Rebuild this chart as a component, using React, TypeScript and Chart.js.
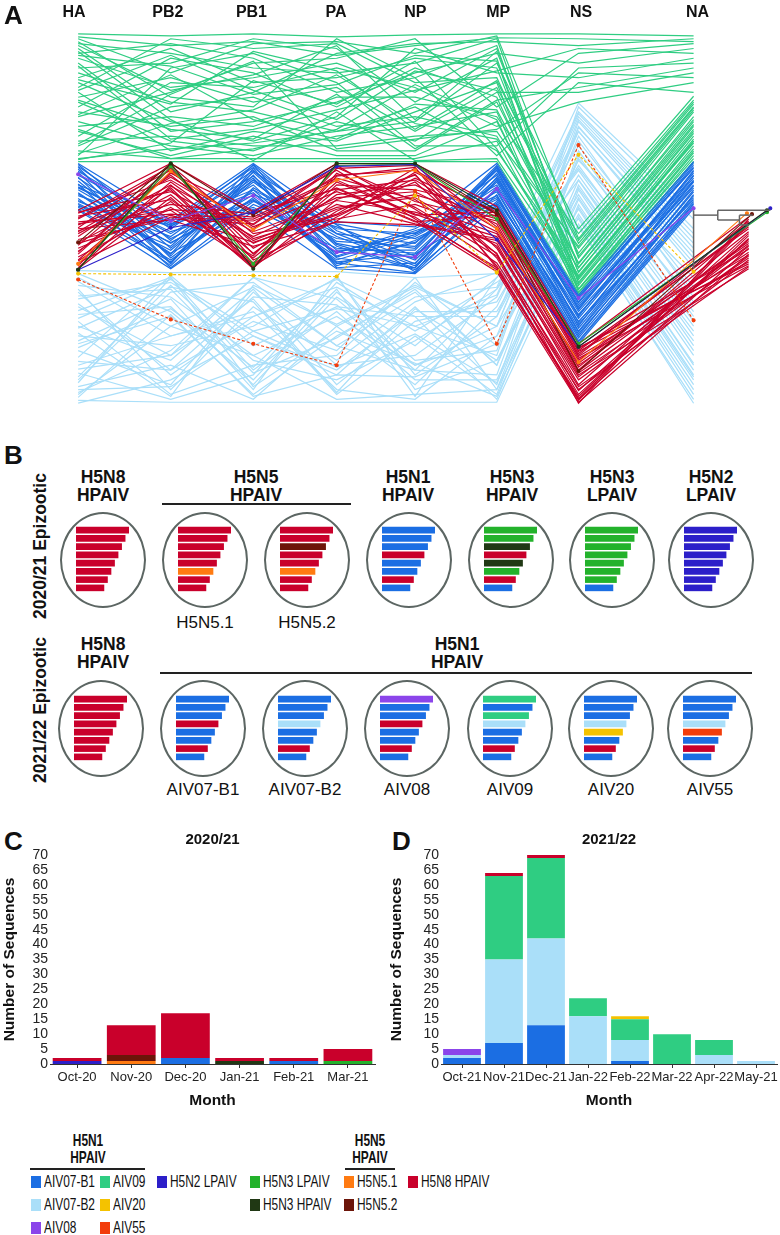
import React, { useEffect, useRef } from "react";
import { Chart, registerables } from "chart.js";
Chart.register(...registerables);

const SANS = '"Liberation Sans", Arial, Helvetica, sans-serif';

const COL = {
  B1: "#1b6ee3",
  B2: "#aadff9",
  A08: "#8b45ea",
  A09: "#2fcd82",
  A20: "#f4c200",
  A55: "#f23d0b",
  N2: "#2c1fc9",
  N3L: "#23b22b",
  N3H: "#203814",
  N51: "#ff7b12",
  N52: "#6c1509",
  N8: "#c9002b",
};

// ---------------- Panel A (segment rank plot) ----------------
const genes = ["HA", "PB2", "PB1", "PA", "NP", "MP", "NS", "NA"];
const geneX = [0, 1.11, 2.1, 3.1, 4.04, 5.02, 6, 7.38];
const n8AxisX = 8.04;
const X_MIN = -0.876;
const X_MAX = 8.355;

// values: rank position along each segment axis (0 = top)
const greenLines = [
  [0, 2, 0, 3, 1, 0, 0, 2],
  [5, 40, 10, 8, 20, 2, 210, 70],
  [10, 20, 35, 40, 30, 5, 240, 95],
  [15, 80, 60, 20, 10, 8, 12, 5],
  [20, 10, 25, 60, 45, 12, 255, 110],
  [25, 55, 45, 30, 60, 15, 230, 85],
  [30, 100, 90, 70, 40, 20, 30, 15],
  [35, 30, 5, 15, 70, 25, 262, 120],
  [40, 70, 80, 100, 90, 30, 200, 64],
  [45, 15, 50, 45, 25, 35, 245, 100],
  [50, 90, 110, 85, 15, 40, 45, 25],
  [55, 5, 15, 10, 50, 45, 225, 80],
  [60, 120, 100, 110, 80, 50, 265, 125],
  [65, 45, 70, 55, 100, 55, 215, 75],
  [70, 110, 120, 90, 110, 60, 60, 40],
  [75, 25, 40, 75, 35, 65, 250, 105],
  [80, 95, 85, 120, 120, 70, 235, 90],
  [85, 60, 30, 25, 5, 75, 20, 10],
  [90, 115, 125, 105, 95, 80, 268, 131],
  [95, 85, 95, 65, 65, 85, 205, 68],
  [100, 125, 105, 125, 125, 90, 258, 115],
  [105, 50, 55, 35, 55, 95, 70, 50],
  [110, 105, 115, 115, 105, 100, 220, 78],
  [115, 75, 65, 95, 85, 105, 248, 112],
  [120, 128, 128, 128, 128, 110, 262, 128],
  [125, 35, 20, 50, 115, 115, 35, 30],
  [128, 118, 112, 100, 75, 120, 240, 98],
  [131, 131, 131, 131, 131, 131, 266, 131],
  [8, 65, 75, 5, 45, 125, 50, 60],
  [18, 88, 130, 80, 130, 128, 252, 108],
  [3, 12, 8, 22, 12, 4, 5, 8],
  [12, 58, 42, 12, 88, 18, 228, 88],
  [22, 33, 62, 52, 22, 28, 256, 118],
  [33, 108, 98, 78, 58, 38, 15, 20],
  [47, 72, 18, 38, 98, 48, 212, 72],
  [58, 22, 58, 88, 38, 58, 244, 102],
  [68, 98, 108, 62, 118, 68, 55, 35],
  [83, 42, 88, 108, 72, 78, 236, 93],
  [98, 128, 118, 98, 52, 88, 262, 122],
  [113, 62, 28, 118, 108, 98, 40, 45],
  [123, 92, 78, 42, 92, 108, 218, 76],
  [129, 112, 48, 72, 28, 118, 250, 110],
];

const lightBlueLines = [
  [243, 245, 244, 244, 250, 246, 71, 183],
  [250, 300, 260, 320, 270, 260, 80, 200],
  [258, 270, 330, 290, 340, 300, 100, 240],
  [265, 350, 290, 260, 300, 330, 90, 220],
  [272, 255, 310, 350, 280, 360, 120, 280],
  [280, 330, 250, 300, 360, 280, 110, 260],
  [288, 280, 360, 270, 320, 250, 140, 300],
  [295, 370, 340, 330, 255, 320, 75, 190],
  [302, 260, 275, 370, 310, 370, 160, 330],
  [310, 320, 300, 250, 350, 290, 130, 250],
  [318, 290, 370, 310, 265, 340, 150, 320],
  [325, 360, 265, 340, 330, 270, 85, 210],
  [332, 248, 320, 280, 290, 375, 175, 350],
  [340, 310, 285, 365, 375, 310, 105, 270],
  [348, 375, 350, 255, 305, 255, 190, 370],
  [355, 265, 255, 320, 345, 350, 125, 290],
  [362, 340, 375, 300, 260, 300, 165, 340],
  [370, 300, 330, 375, 370, 365, 195, 379],
  [376, 378, 378, 378, 378, 378, 198, 375],
  [379, 355, 310, 345, 285, 285, 145, 310],
  [246, 285, 355, 265, 335, 325, 95, 230],
  [262, 365, 280, 335, 275, 245, 115, 265],
  [284, 250, 345, 285, 355, 355, 170, 345],
  [300, 335, 262, 360, 295, 275, 135, 295],
  [315, 272, 365, 248, 365, 335, 185, 360],
  [336, 345, 295, 325, 250, 365, 155, 325],
  [352, 258, 335, 355, 315, 262, 100, 235],
  [368, 325, 250, 272, 340, 310, 180, 355],
  [254, 310, 290, 252, 290, 290, 88, 215],
  [269, 262, 348, 312, 262, 340, 128, 275],
  [277, 345, 270, 278, 345, 262, 150, 305],
  [292, 252, 305, 342, 308, 358, 178, 352],
  [307, 372, 258, 298, 258, 300, 96, 225],
  [322, 282, 342, 262, 372, 250, 138, 285],
  [344, 330, 272, 368, 282, 335, 168, 338],
  [358, 250, 362, 305, 338, 372, 188, 365],
  [365, 362, 305, 282, 300, 268, 82, 205],
  [373, 288, 372, 350, 352, 318, 158, 315],
];

const blueLines = [
  [133, 191, 133, 193, 198, 133, 268, 131],
  [136, 200, 140, 215, 230, 138, 275, 135],
  [139, 220, 150, 200, 205, 145, 290, 140],
  [142, 235, 138, 230, 240, 150, 280, 150],
  [145, 195, 160, 205, 215, 140, 300, 145],
  [148, 210, 170, 225, 200, 155, 285, 155],
  [151, 228, 145, 240, 235, 160, 305, 160],
  [154, 240, 175, 210, 220, 135, 270, 138],
  [157, 205, 155, 235, 245, 165, 310, 165],
  [160, 215, 165, 195, 210, 170, 295, 170],
  [163, 225, 180, 220, 225, 148, 278, 148],
  [166, 198, 135, 228, 202, 175, 315, 175],
  [169, 238, 158, 208, 238, 158, 288, 158],
  [172, 208, 148, 238, 212, 168, 298, 168],
  [175, 232, 172, 198, 228, 143, 283, 143],
  [178, 218, 142, 218, 242, 172, 308, 172],
  [181, 241, 182, 241, 246, 177, 318, 179],
  [137, 230, 168, 232, 208, 162, 302, 162],
  [155, 193, 137, 202, 232, 152, 292, 152],
  [174, 222, 152, 213, 218, 137, 272, 133],
  [134, 212, 150, 222, 222, 140, 282, 141],
  [141, 197, 163, 236, 214, 157, 296, 156],
  [147, 236, 141, 196, 244, 147, 276, 146],
  [158, 203, 178, 224, 204, 174, 312, 174],
  [164, 226, 134, 205, 236, 136, 270, 137],
  [171, 214, 171, 229, 206, 166, 306, 166],
  [177, 196, 146, 216, 240, 150, 289, 151],
  [180, 234, 160, 234, 226, 176, 316, 177],
];

// last value is the position on the N8 axis
const redLines = [
  [181, 133, 182, 133, 133, 177, 318, 188],
  [184, 150, 200, 145, 140, 185, 330, 192],
  [187, 170, 230, 160, 150, 200, 345, 196],
  [190, 140, 215, 180, 165, 190, 325, 200],
  [193, 185, 190, 150, 185, 215, 360, 205],
  [196, 160, 240, 170, 145, 230, 370, 210],
  [199, 135, 205, 190, 175, 205, 335, 215],
  [202, 175, 185, 140, 190, 240, 375, 220],
  [205, 155, 225, 165, 155, 195, 340, 224],
  [208, 145, 210, 185, 138, 220, 355, 228],
  [211, 190, 195, 135, 180, 235, 365, 232],
  [214, 165, 235, 155, 160, 180, 322, 236],
  [217, 138, 220, 175, 195, 210, 350, 241],
  [220, 180, 188, 148, 170, 225, 379, 190],
  [223, 158, 238, 188, 148, 188, 328, 198],
  [226, 142, 198, 162, 188, 242, 372, 207],
  [229, 178, 228, 138, 135, 198, 338, 213],
  [232, 152, 212, 178, 168, 218, 352, 218],
  [235, 188, 192, 158, 192, 244, 378, 226],
  [238, 137, 232, 192, 142, 183, 326, 234],
  [241, 168, 241, 143, 178, 228, 362, 239],
  [200, 191, 218, 193, 196, 212, 348, 230],
  [183, 162, 208, 168, 162, 203, 342, 203],
  [189, 136, 226, 152, 186, 183, 323, 221],
  [195, 181, 236, 182, 144, 238, 374, 193],
  [203, 147, 196, 137, 172, 192, 333, 238],
  [215, 186, 214, 186, 152, 226, 366, 211],
  [224, 143, 183, 159, 193, 186, 331, 227],
  [233, 172, 239, 146, 137, 240, 376, 195],
  [240, 156, 203, 171, 183, 208, 346, 217],
];

const specialColors = [COL.A55, COL.A20, COL.A08, COL.N3H, COL.N2, COL.N3L, COL.N51, COL.N52];
const specialDashed = [true, true, false, false, false, false, false, false];
const specialLines = [
  [252, 293, 318, 340, 161, 318, 114, 294],
  [246, 247, 248, 249, 166, 245, 124, 244],
  [144, 192, 166, 224, 229, 159, 271, 179],
  [242, 133, 241, 133, 133, 181, 321, 181],
  [242, 199, 183, 136, 134, 211, 321, 179],
  [242, 136, 236, 135, 134, 190, 318, 183],
  [236, 141, 201, 150, 140, 200, 337, 184],
  [214, 133, 186, 133, 134, 185, 346, 185],
];
const specialEndX = [7.38, 7.38, 7.38, 8.26, 8.3, 8.26, 8.02, 8.08];

// small NA tree: [x1, y1, x2, y2]
const treeSegments = [
  [7.38, 181, 7.38, 241],
  [7.38, 186, 7.67, 186],
  [7.67, 181, 7.67, 191],
  [7.67, 181, 8.3, 181],
  [7.67, 191, 7.93, 191],
  [7.93, 186, 7.93, 196],
  [7.93, 186, 8.09, 186],
  [7.93, 196, 8.04, 196],
];

function PanelA() {
  const ref = useRef<HTMLCanvasElement>(null);
  useEffect(() => {
    const datasets: any[] = [];
    const add = (rows: number[][], color: string, order: number, endX: number) => {
      rows.forEach((r) => {
        datasets.push({
          data: r.map((y, i) => ({ x: i === 7 ? endX : geneX[i], y })),
          borderColor: color,
          backgroundColor: color,
          borderWidth: 1.2,
          pointRadius: 0,
          order,
        });
      });
    };
    add(lightBlueLines, COL.B2, 5, geneX[7]);
    add(greenLines, COL.A09, 4, geneX[7]);
    add(blueLines, COL.B1, 3, geneX[7]);
    add(redLines, COL.N8, 2, n8AxisX);
    specialLines.forEach((r, k) => {
      datasets.push({
        data: r.map((y, i) => ({ x: i === 7 ? specialEndX[k] : geneX[i], y })),
        borderColor: specialColors[k],
        backgroundColor: specialColors[k],
        borderWidth: 1.1,
        borderDash: specialDashed[k] ? [3, 2] : [],
        pointRadius: 1.5,
        order: 1,
      });
    });
    treeSegments.forEach((s) => {
      datasets.push({
        data: [
          { x: s[0], y: s[1] },
          { x: s[2], y: s[3] },
        ],
        borderColor: "#666",
        borderWidth: 1.5,
        pointRadius: 0,
        order: 0,
      });
    });
    const chart = new Chart(ref.current!, {
      type: "line",
      data: { datasets },
      options: {
        animation: false,
        responsive: false,
        layout: { padding: 0 },
        plugins: { legend: { display: false }, tooltip: { enabled: false } },
        elements: { line: { tension: 0 } },
        scales: {
          x: { type: "linear", display: false, min: X_MIN, max: X_MAX },
          y: { display: false, min: -9, max: 391, reverse: true },
        },
      } as any,
    });
    return () => chart.destroy();
  }, []);
  const pxPerUnit = 780 / (X_MAX - X_MIN);
  return (
    <>
      <canvas ref={ref} width={780} height={400} style={{ position: "absolute", left: 0, top: 20 }} />
      {genes.map((g, i) => (
        <CText key={g} cx={(geneX[i] - X_MIN) * pxPerUnit} cy={12} text={g} size={16} bold />
      ))}
    </>
  );
}

// ---------------- Panel B (segment constellations) ----------------
const barLengths = [15, 14, 13, 12, 11, 10, 9, 8];
const row1Bars = [
  [COL.N8, COL.N8, COL.N8, COL.N8, COL.N8, COL.N8, COL.N8, COL.N8],
  [COL.N8, COL.N8, COL.N8, COL.N8, COL.N8, COL.N51, COL.N8, COL.N8],
  [COL.N8, COL.N8, COL.N52, COL.N8, COL.N8, COL.N51, COL.N8, COL.N8],
  [COL.B1, COL.B1, COL.B1, COL.N8, COL.B1, COL.B1, COL.N8, COL.B1],
  [COL.N3L, COL.N3L, COL.N3H, COL.N8, COL.N3H, COL.N3L, COL.N8, COL.B1],
  [COL.N3L, COL.N3L, COL.N3L, COL.N3L, COL.N3L, COL.N3L, COL.N3L, COL.B1],
  [COL.N2, COL.N2, COL.N2, COL.N2, COL.N2, COL.N2, COL.N2, COL.N2],
];
const row1Sub = ["", "H5N5.1", "H5N5.2", "", "", "", ""];
const row2Bars = [
  [COL.N8, COL.N8, COL.N8, COL.N8, COL.N8, COL.N8, COL.N8, COL.N8],
  [COL.B1, COL.B1, COL.B1, COL.N8, COL.B1, COL.B1, COL.N8, COL.B1],
  [COL.B1, COL.B1, COL.B1, COL.B2, COL.B1, COL.B1, COL.N8, COL.B1],
  [COL.A08, COL.B1, COL.B1, COL.N8, COL.B1, COL.B1, COL.N8, COL.B1],
  [COL.A09, COL.B1, COL.A09, COL.B2, COL.B1, COL.B1, COL.N8, COL.B1],
  [COL.B1, COL.B1, COL.B1, COL.B2, COL.A20, COL.B1, COL.N8, COL.B1],
  [COL.B1, COL.B1, COL.B1, COL.B2, COL.A55, COL.B1, COL.N8, COL.B1],
];
const row2Sub = ["", "AIV07-B1", "AIV07-B2", "AIV08", "AIV09", "AIV20", "AIV55"];
const row1Heads = [
  ["H5N8", "HPAIV"],
  ["H5N5", "HPAIV"],
  ["H5N1", "HPAIV"],
  ["H5N3", "HPAIV"],
  ["H5N3", "LPAIV"],
  ["H5N2", "LPAIV"],
];
const row2Heads = [
  ["H5N8", "HPAIV"],
  ["H5N1", "HPAIV"],
];

const row1Left = [60, 162, 264, 366, 468, 569, 668];
const row2Left = [58, 160, 262, 364, 467, 568, 667];
const row1HeadX = [103, 256, 408, 512, 612, 711];
const row2HeadX = [103, 457];

function MiniBars({ colors, left, top }: { colors: string[]; left: number; top: number }) {
  const ref = useRef<HTMLCanvasElement>(null);
  useEffect(() => {
    const chart = new Chart(ref.current!, {
      type: "bar",
      data: {
        labels: barLengths.map((_, i) => String(i + 1)),
        datasets: [
          {
            data: barLengths,
            backgroundColor: colors,
            borderWidth: 0,
            barPercentage: 0.8,
            categoryPercentage: 1,
          },
        ],
      },
      options: {
        indexAxis: "y",
        animation: false,
        responsive: false,
        layout: { padding: 0 },
        plugins: { legend: { display: false }, tooltip: { enabled: false } },
        scales: {
          x: { display: false, min: 0, max: 15 },
          y: { display: false },
        },
      } as any,
    });
    return () => chart.destroy();
  }, []);
  return <canvas ref={ref} width={53} height={66} style={{ position: "absolute", left, top }} />;
}

function CText({ cx, cy, text, size, bold = false, sx = 1 }: any) {
  return (
    <div
      style={{
        position: "absolute",
        left: cx - 150,
        width: 300,
        top: cy - size * 0.6,
        height: size * 1.2,
        lineHeight: `${size * 1.2}px`,
        textAlign: "center",
        fontSize: size,
        fontWeight: bold ? 700 : 400,
        fontFamily: SANS,
        whiteSpace: "nowrap",
        color: "#111",
        transform: sx !== 1 ? `scaleX(${sx})` : undefined,
      }}
    >
      {text}
    </div>
  );
}

const VText = ({ cx, cy, text, size }: any) => (
  <div
    style={{
      position: "absolute",
      left: cx - 110,
      width: 220,
      top: cy - 12,
      height: 24,
      lineHeight: "24px",
      textAlign: "center",
      fontSize: size,
      fontWeight: 700,
      fontFamily: SANS,
      transform: "rotate(-90deg)",
      whiteSpace: "nowrap",
      color: "#111",
    }}
  >
    {text}
  </div>
);

const Ellipse = ({ left, top, h }: any) => (
  <div
    style={{
      position: "absolute",
      left,
      top,
      width: 86,
      height: h,
      border: "2.5px solid #5c6663",
      borderRadius: "50%",
      boxSizing: "border-box",
    }}
  />
);

function PanelB() {
  return (
    <>
      <VText cx={40} cy={546} text="2020/21 Epizootic" size={17.5} />
      <VText cx={40} cy={710} text="2021/22 Epizootic" size={17.5} />
      {row1Heads.map((h, i) => (
        <React.Fragment key={"h1" + i}>
          <CText cx={row1HeadX[i]} cy={477} text={h[0]} size={17.5} bold />
          <CText cx={row1HeadX[i]} cy={495} text={h[1]} size={17.5} bold />
        </React.Fragment>
      ))}
      {row2Heads.map((h, i) => (
        <React.Fragment key={"h2" + i}>
          <CText cx={row2HeadX[i]} cy={644} text={h[0]} size={17.5} bold />
          <CText cx={row2HeadX[i]} cy={662} text={h[1]} size={17.5} bold />
        </React.Fragment>
      ))}
      <div style={{ position: "absolute", left: 162, top: 503, width: 189, height: 1.5, background: "#222" }} />
      <div style={{ position: "absolute", left: 160, top: 672, width: 592, height: 1.5, background: "#222" }} />
      {row1Bars.map((c, i) => (
        <React.Fragment key={"r1" + i}>
          <Ellipse left={row1Left[i]} top={512} h={96} />
          <MiniBars colors={c} left={row1Left[i] + 16} top={526} />
          {row1Sub[i] && <CText cx={row1Left[i] + 43} cy={623} text={row1Sub[i]} size={17} />}
        </React.Fragment>
      ))}
      {row2Bars.map((c, i) => (
        <React.Fragment key={"r2" + i}>
          <Ellipse left={row2Left[i]} top={680} h={97} />
          <MiniBars colors={c} left={row2Left[i] + 16} top={695} />
          {row2Sub[i] && <CText cx={row2Left[i] + 43} cy={790} text={row2Sub[i]} size={17} />}
        </React.Fragment>
      ))}
    </>
  );
}

// ---------------- Panels C and D (stacked bars) ----------------
const months20 = ["Oct-20", "Nov-20", "Dec-20", "Jan-21", "Feb-21", "Mar-21"];
const c_B1 = [0, 0, 2, 0, 1, 0];
const c_N2 = [1, 0, 0, 0, 0, 0];
const c_N3H = [0, 0, 0, 1, 0, 0];
const c_N3L = [0, 0, 0, 0, 0, 1];
const c_N51 = [0, 1, 0, 0, 0, 0];
const c_N52 = [0, 2, 0, 0, 0, 0];
const c_N8 = [1, 10, 15, 1, 1, 4];

const months21 = ["Oct-21", "Nov-21", "Dec-21", "Jan-22", "Feb-22", "Mar-22", "Apr-22", "May-21"];
const d_B1 = [2, 7, 13, 0, 1, 0, 0, 0];
const d_B2 = [1, 28, 29, 16, 7, 0, 3, 1];
const d_A08 = [2, 0, 0, 0, 0, 0, 0, 0];
const d_A09 = [0, 28, 27, 6, 7, 10, 5, 0];
const d_A20 = [0, 0, 0, 0, 1, 0, 0, 0];
const d_N8 = [0, 1, 1, 0, 0, 0, 0, 0];

const seriesC = [
  { name: "AIV07-B1", color: COL.B1, data: c_B1 },
  { name: "H5N2 LPAIV", color: COL.N2, data: c_N2 },
  { name: "H5N3 HPAIV", color: COL.N3H, data: c_N3H },
  { name: "H5N3 LPAIV", color: COL.N3L, data: c_N3L },
  { name: "H5N5.1", color: COL.N51, data: c_N51 },
  { name: "H5N5.2", color: COL.N52, data: c_N52 },
  { name: "H5N8 HPAIV", color: COL.N8, data: c_N8 },
];
const seriesD = [
  { name: "AIV07-B1", color: COL.B1, data: d_B1 },
  { name: "AIV07-B2", color: COL.B2, data: d_B2 },
  { name: "AIV08", color: COL.A08, data: d_A08 },
  { name: "AIV09", color: COL.A09, data: d_A09 },
  { name: "AIV20", color: COL.A20, data: d_A20 },
  { name: "H5N8 HPAIV", color: COL.N8, data: d_N8 },
];

function StackChart({ left, width, title, labels, series, yAxisW, padRight, titlePadTop }: any) {
  const ref = useRef<HTMLCanvasElement>(null);
  useEffect(() => {
    const chart = new Chart(ref.current!, {
      type: "bar",
      data: {
        labels,
        datasets: series.map((s: any) => ({
          label: s.name,
          data: s.data,
          backgroundColor: s.color,
          borderWidth: 0,
          barPercentage: 0.9,
          categoryPercentage: 1,
        })),
      },
      options: {
        animation: false,
        responsive: false,
        layout: { padding: { top: 6, right: padRight, left: 0, bottom: 0 } },
        plugins: {
          legend: { display: false },
          tooltip: { enabled: false },
          title: {
            display: true,
            text: title,
            fullSize: false,
            font: { family: SANS, size: 15, weight: "bold" },
            color: "#111",
            padding: { top: 0, bottom: 6 },
          },
        },
        scales: {
          x: {
            stacked: true,
            grid: { display: true, drawOnChartArea: false, offset: false, tickLength: 4, color: "#333" },
            border: { display: true, color: "#333", width: 1 },
            ticks: { font: { family: SANS, size: 13 }, color: "#222", autoSkip: false, maxRotation: 0, minRotation: 0, padding: 2 },
            title: { display: true, text: "Month", font: { family: SANS, size: 15.5, weight: "bold" }, color: "#111", padding: 0 },
            afterFit: (s: any) => {
              s.height = 46;
            },
          },
          y: {
            stacked: true,
            min: 0,
            max: 70,
            ticks: { stepSize: 5, autoSkip: false, font: { family: SANS, size: 14 }, color: "#222", padding: 2 },
            grid: { display: false, drawTicks: false },
            border: { display: false },
            title: {
              display: true,
              text: "Number of Sequences",
              font: { family: SANS, size: 15.5, weight: "bold" },
              color: "#111",
              padding: { top: titlePadTop, bottom: 0 },
            },
            afterFit: (s: any) => {
              s.width = yAxisW;
            },
          },
        },
      } as any,
    });
    return () => chart.destroy();
  }, []);
  return <canvas ref={ref} width={width} height={285} style={{ position: "absolute", left, top: 825 }} />;
}

// ---------------- Legend ----------------
const legendNames = [
  "AIV07-B1", "AIV07-B2", "AIV08",
  "AIV09", "AIV20", "AIV55",
  "H5N2 LPAIV",
  "H5N3 LPAIV", "H5N3 HPAIV",
  "H5N5.1", "H5N5.2",
  "H5N8 HPAIV",
];
const legendColors = [
  COL.B1, COL.B2, COL.A08,
  COL.A09, COL.A20, COL.A55,
  COL.N2,
  COL.N3L, COL.N3H,
  COL.N51, COL.N52,
  COL.N8,
];
const legendColX = [31, 31, 31, 100, 100, 100, 157, 250, 250, 344, 344, 408];
const legendRowY = [1182, 1205, 1228, 1182, 1205, 1228, 1182, 1182, 1205, 1182, 1205, 1182];
const NARROW_SX = 0.7;

function Legend() {
  return (
    <>
      <CText cx={88} cy={1141} text="H5N1" size={17} bold sx={NARROW_SX} />
      <CText cx={88} cy={1158} text="HPAIV" size={17} bold sx={NARROW_SX} />
      <div style={{ position: "absolute", left: 30, top: 1168, width: 115, height: 1.5, background: "#222" }} />
      <CText cx={370} cy={1141} text="H5N5" size={17} bold sx={NARROW_SX} />
      <CText cx={370} cy={1158} text="HPAIV" size={17} bold sx={NARROW_SX} />
      <div style={{ position: "absolute", left: 345, top: 1168, width: 50, height: 1.5, background: "#222" }} />
      {legendNames.map((n, i) => (
        <React.Fragment key={n}>
          <div
            style={{
              position: "absolute",
              left: legendColX[i],
              top: legendRowY[i] - 6,
              width: 10,
              height: 12,
              background: legendColors[i],
            }}
          />
          <div
            style={{
              position: "absolute",
              left: legendColX[i] + 13,
              top: legendRowY[i] - 10,
              height: 20,
              lineHeight: "20px",
              fontSize: 17,
              fontFamily: SANS,
              whiteSpace: "nowrap",
              color: "#111",
              transform: `scaleX(${NARROW_SX})`,
              transformOrigin: "left center",
            }}
          >
            {n}
          </div>
        </React.Fragment>
      ))}
    </>
  );
}

const PanelLetter = ({ x, y, t }: any) => (
  <div
    style={{
      position: "absolute",
      left: x,
      top: y,
      fontSize: 26,
      fontWeight: 700,
      fontFamily: SANS,
      lineHeight: "26px",
      color: "#111",
    }}
  >
    {t}
  </div>
);

export default function App() {
  return (
    <div style={{ position: "relative", width: 780, height: 1235, background: "#fff", overflow: "hidden", fontFamily: SANS }}>
      <style>{`body{margin:0;background:#fff}`}</style>
      <PanelA />
      <PanelLetter x={4} y={2} t="A" />
      <PanelLetter x={4} y={442} t="B" />
      <PanelB />
      <PanelLetter x={4} y={828} t="C" />
      <PanelLetter x={392} y={828} t="D" />
      <StackChart left={0} width={390} title="2020/21" labels={months20} series={seriesC} yAxisW={50} padRight={15} titlePadTop={0} />
      <StackChart left={385} width={395} title="2021/22" labels={months21} series={seriesD} yAxisW={56} padRight={3} titlePadTop={2} />
      <Legend />
    </div>
  );
}
